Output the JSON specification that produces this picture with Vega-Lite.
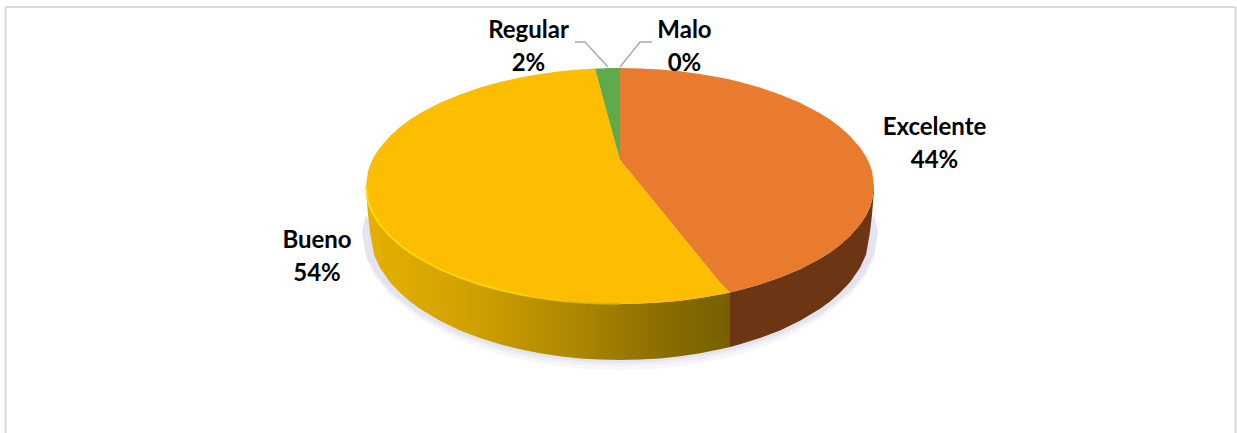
{
  "$schema": "https://vega.github.io/schema/vega-lite/v6.json",
  "width": 1237,
  "height": 433,
  "padding": 0,
  "autosize": {"type": "none"},
  "background": "white",
  "config": {"view": {"stroke": null}},
  "datasets": {
    "contorno": [
      {"parte":"lateral_bueno","x":-254,"y":186,"y2":190},{"parte":"lateral_bueno","x":-252,"y":200.8,"y2":215},{"parte":"lateral_bueno","x":-250,"y":206.9,"y2":232},{"parte":"lateral_bueno","x":-246,"y":215.4,"y2":254.8},{"parte":"lateral_bueno","x":-240,"y":224.6,"y2":267.8},{"parte":"lateral_bueno","x":-230,"y":236,"y2":282.2},{"parte":"lateral_bueno","x":-220,"y":245,"y2":292.8},{"parte":"lateral_bueno","x":-210,"y":252.4,"y2":301.5},{"parte":"lateral_bueno","x":-200,"y":258.7,"y2":308.8},{"parte":"lateral_bueno","x":-180,"y":269.3,"y2":320.8},{"parte":"lateral_bueno","x":-160,"y":277.6,"y2":330.4},{"parte":"lateral_bueno","x":-140,"y":284.5,"y2":338},{"parte":"lateral_bueno","x":-120,"y":290,"y2":344.3},{"parte":"lateral_bueno","x":-100,"y":294.5,"y2":349.3},{"parte":"lateral_bueno","x":-80,"y":298,"y2":353.3},{"parte":"lateral_bueno","x":-60,"y":300.7,"y2":356.3},{"parte":"lateral_bueno","x":-40,"y":302.5,"y2":358.4},{"parte":"lateral_bueno","x":-20,"y":303.6,"y2":359.5},{"parte":"lateral_bueno","x":0,"y":304,"y2":360},{"parte":"lateral_bueno","x":20,"y":303.6,"y2":359.5},{"parte":"lateral_bueno","x":40,"y":302.5,"y2":358.4},{"parte":"lateral_bueno","x":60,"y":300.7,"y2":356.3},{"parte":"lateral_bueno","x":80,"y":298,"y2":353.3},{"parte":"lateral_bueno","x":100,"y":294.5,"y2":349.3},{"parte":"lateral_bueno","x":110,"y":292.4,"y2":346.9},
      {"parte":"lateral_excelente","x":110,"y":292.4,"y2":346.9},{"parte":"lateral_excelente","x":120,"y":290,"y2":344.3},{"parte":"lateral_excelente","x":140,"y":284.5,"y2":338},{"parte":"lateral_excelente","x":160,"y":277.6,"y2":330.4},{"parte":"lateral_excelente","x":180,"y":269.3,"y2":320.8},{"parte":"lateral_excelente","x":200,"y":258.7,"y2":308.8},{"parte":"lateral_excelente","x":210,"y":252.4,"y2":301.5},{"parte":"lateral_excelente","x":220,"y":245,"y2":292.8},{"parte":"lateral_excelente","x":230,"y":236,"y2":282.2},{"parte":"lateral_excelente","x":240,"y":224.6,"y2":267.8},{"parte":"lateral_excelente","x":246,"y":215.4,"y2":254.8},{"parte":"lateral_excelente","x":250,"y":206.9,"y2":232},{"parte":"lateral_excelente","x":252,"y":200.8,"y2":215},{"parte":"lateral_excelente","x":254,"y":186,"y2":190},
      {"parte":"cara_bueno","x":-254,"y":186,"y2":186},{"parte":"cara_bueno","x":-252,"y":171.2,"y2":200.8},{"parte":"cara_bueno","x":-250,"y":165.1,"y2":206.9},{"parte":"cara_bueno","x":-246,"y":156.6,"y2":215.4},{"parte":"cara_bueno","x":-240,"y":147.4,"y2":224.6},{"parte":"cara_bueno","x":-230,"y":136,"y2":236},{"parte":"cara_bueno","x":-220,"y":127,"y2":245},{"parte":"cara_bueno","x":-210,"y":119.6,"y2":252.4},{"parte":"cara_bueno","x":-200,"y":113.3,"y2":258.7},{"parte":"cara_bueno","x":-180,"y":102.7,"y2":269.3},{"parte":"cara_bueno","x":-160,"y":94.4,"y2":277.6},{"parte":"cara_bueno","x":-140,"y":87.5,"y2":284.5},{"parte":"cara_bueno","x":-120,"y":82,"y2":290},{"parte":"cara_bueno","x":-100,"y":77.5,"y2":294.5},{"parte":"cara_bueno","x":-80,"y":74,"y2":298},{"parte":"cara_bueno","x":-60,"y":71.3,"y2":300.7},{"parte":"cara_bueno","x":-40,"y":69.5,"y2":302.5},{"parte":"cara_bueno","x":-25,"y":68.6,"y2":303.4},{"parte":"cara_bueno","x":-20,"y":87,"y2":303.6},{"parte":"cara_bueno","x":-15,"y":105,"y2":303.9},{"parte":"cara_bueno","x":-10,"y":124,"y2":304},{"parte":"cara_bueno","x":-5,"y":142,"y2":304},{"parte":"cara_bueno","x":0,"y":160,"y2":304},{"parte":"cara_bueno","x":20,"y":184.5,"y2":303.6},{"parte":"cara_bueno","x":40,"y":209,"y2":302.5},{"parte":"cara_bueno","x":60,"y":233.5,"y2":300.7},{"parte":"cara_bueno","x":80,"y":258,"y2":298},{"parte":"cara_bueno","x":100,"y":282.5,"y2":294.5},{"parte":"cara_bueno","x":110,"y":292.4,"y2":292.4},
      {"parte":"cara_regular","x":-25,"y":68.6,"y2":68.6},{"parte":"cara_regular","x":-20,"y":68.4,"y2":87},{"parte":"cara_regular","x":-10,"y":68.1,"y2":124},{"parte":"cara_regular","x":0,"y":68,"y2":160},
      {"parte":"cara_excelente","x":0,"y":68,"y2":160},{"parte":"cara_excelente","x":20,"y":68.4,"y2":184.5},{"parte":"cara_excelente","x":40,"y":69.5,"y2":209},{"parte":"cara_excelente","x":60,"y":71.3,"y2":233.5},{"parte":"cara_excelente","x":80,"y":74,"y2":258},{"parte":"cara_excelente","x":100,"y":77.5,"y2":282.5},{"parte":"cara_excelente","x":110,"y":79.6,"y2":292.4},{"parte":"cara_excelente","x":120,"y":82,"y2":290},{"parte":"cara_excelente","x":140,"y":87.5,"y2":284.5},{"parte":"cara_excelente","x":160,"y":94.4,"y2":277.6},{"parte":"cara_excelente","x":180,"y":102.7,"y2":269.3},{"parte":"cara_excelente","x":200,"y":113.3,"y2":258.7},{"parte":"cara_excelente","x":210,"y":119.6,"y2":252.4},{"parte":"cara_excelente","x":220,"y":127,"y2":245},{"parte":"cara_excelente","x":230,"y":136,"y2":236},{"parte":"cara_excelente","x":240,"y":147.4,"y2":224.6},{"parte":"cara_excelente","x":246,"y":156.6,"y2":215.4},{"parte":"cara_excelente","x":250,"y":165.1,"y2":206.9},{"parte":"cara_excelente","x":252,"y":171.2,"y2":200.8},{"parte":"cara_excelente","x":254,"y":186,"y2":186}
    ],
    "sombra": [
      {"x":-258,"y":232,"a":232,"b":233,"c":234},{"x":-254,"y":215,"a":255,"b":256.3,"c":257.9},{"x":-245,"y":232,"a":273,"b":274.7,"c":276.6},{"x":-230,"y":232,"a":291.3,"b":293.2,"c":295.6},{"x":-200,"y":232,"a":314.8,"b":317,"c":319.9},{"x":-160,"y":232,"a":334.8,"b":337.3,"c":340.7},{"x":-120,"y":232,"a":348,"b":350.7,"c":354.4},{"x":-80,"y":232,"a":356.5,"b":359.4,"c":363.3},{"x":-40,"y":232,"a":361.4,"b":364.4,"c":368.4},{"x":0,"y":232,"a":363,"b":366,"c":370},{"x":40,"y":232,"a":361.4,"b":364.4,"c":368.4},{"x":80,"y":232,"a":356.5,"b":359.4,"c":363.3},{"x":120,"y":232,"a":348,"b":350.7,"c":354.4},{"x":160,"y":232,"a":334.8,"b":337.3,"c":340.7},{"x":200,"y":232,"a":314.8,"b":317,"c":319.9},{"x":230,"y":232,"a":291.3,"b":293.2,"c":295.6},{"x":245,"y":232,"a":273,"b":274.7,"c":276.6},{"x":254,"y":215,"a":255,"b":256.3,"c":257.9},{"x":258,"y":232,"a":232,"b":233,"c":234}
    ],
    "categorias": [
      {"categoria":"Excelente","porcentaje":44,"etiqueta":"Excelente\n44%","x":314.5,"y":128},
      {"categoria":"Bueno","porcentaje":54,"etiqueta":"Bueno\n54%","x":-303,"y":241},
      {"categoria":"Regular","porcentaje":2,"etiqueta":"Regular\n2%","x":-91.5,"y":31},
      {"categoria":"Malo","porcentaje":0,"etiqueta":"Malo\n0%","x":64.5,"y":31}
    ],
    "guias": [
      {"categoria":"Regular","orden":1,"x":-45,"y":42},{"categoria":"Regular","orden":2,"x":-35,"y":42},{"categoria":"Regular","orden":3,"x":-12,"y":67},
      {"categoria":"Malo","orden":1,"x":32,"y":42},{"categoria":"Malo","orden":2,"x":20,"y":42},{"categoria":"Malo","orden":3,"x":0,"y":67}
    ],
    "marco": [
      {"x":-614.5,"x2":-614.5,"y":7,"y2":433},
      {"x":-614.5,"x2":615.5,"y":7,"y2":7},
      {"x":615.5,"x2":615.5,"y":7,"y2":433}
    ]
  },
  "resolve": {"scale": {"x": "shared", "y": "shared"}},
  "encoding": {
    "x": {"field": "x", "type": "quantitative", "scale": {"domain": [-620, 617], "nice": false, "zero": false}, "axis": null},
    "y": {"field": "y", "type": "quantitative", "scale": {"domain": [433, 0], "nice": false, "zero": false}, "axis": null}
  },
  "layer": [
    {
      "data": {"name": "marco"},
      "mark": {"type": "rule", "color": "#d9d9d9", "strokeWidth": 2},
      "encoding": {"x2": {"field": "x2"}, "y2": {"field": "y2"}}
    },
    {
      "data": {"name": "sombra"},
      "mark": {"type": "area", "orient": "vertical", "color": "#c6c6de", "opacity": 0.14},
      "encoding": {"y2": {"field": "c"}}
    },
    {
      "data": {"name": "sombra"},
      "mark": {"type": "area", "orient": "vertical", "color": "#c6c6de", "opacity": 0.18},
      "encoding": {"y2": {"field": "b"}}
    },
    {
      "data": {"name": "sombra"},
      "mark": {"type": "area", "orient": "vertical", "color": "#c6c6de", "opacity": 0.22},
      "encoding": {"y2": {"field": "a"}}
    },
    {
      "data": {"name": "contorno"},
      "transform": [{"filter": "datum.parte === 'lateral_bueno'"}],
      "mark": {"type": "area", "orient": "vertical", "color": {"gradient": "linear", "x1": 0, "x2": 1, "y1": 0, "y2": 0, "stops": [{"offset": 0, "color": "#e6b000"}, {"offset": 0.3, "color": "#d0a000"}, {"offset": 0.6, "color": "#a98500"}, {"offset": 0.85, "color": "#866a00"}, {"offset": 1, "color": "#786000"}]}},
      "encoding": {"y2": {"field": "y2"}}
    },
    {
      "data": {"name": "contorno"},
      "transform": [{"filter": "datum.parte === 'lateral_excelente'"}],
      "mark": {"type": "area", "orient": "vertical", "color": "#6c3614"},
      "encoding": {"y2": {"field": "y2"}}
    },
    {
      "data": {"name": "contorno"},
      "transform": [{"filter": "datum.parte === 'cara_excelente'"}],
      "mark": {"type": "area", "orient": "vertical", "color": "#e97b2e"},
      "encoding": {"y2": {"field": "y2"}}
    },
    {
      "data": {"name": "contorno"},
      "transform": [{"filter": "datum.parte === 'cara_bueno'"}],
      "mark": {"type": "area", "orient": "vertical", "color": "#fdbd00"},
      "encoding": {"y2": {"field": "y2"}}
    },
    {
      "data": {"name": "contorno"},
      "transform": [{"filter": "datum.parte === 'cara_regular'"}],
      "mark": {"type": "area", "orient": "vertical", "color": "#5fab4c"},
      "encoding": {"y2": {"field": "y2"}}
    },
    {
      "data": {"name": "contorno"},
      "transform": [{"filter": "datum.parte === 'lateral_bueno' && datum.x <= 0"}],
      "mark": {"type": "line", "strokeWidth": 2, "opacity": 0.8, "color": {"gradient": "linear", "x1": 0, "x2": 1, "y1": 0, "y2": 0, "stops": [{"offset": 0, "color": "#ffe400"}, {"offset": 0.6, "color": "#ffd800"}, {"offset": 1, "color": "#d8a800"}]}}
    },
    {
      "data": {"name": "guias"},
      "mark": {"type": "line", "color": "#a6a6a6", "strokeWidth": 1.3},
      "encoding": {"detail": {"field": "categoria"}, "order": {"field": "orden"}}
    },
    {
      "data": {"name": "categorias"},
      "mark": {"type": "text", "font": "Lato", "fontWeight": "bold", "fontSize": 24, "color": "black", "align": "center", "baseline": "middle", "lineBreak": "\n", "lineHeight": 33},
      "encoding": {"text": {"field": "etiqueta"}}
    }
  ]
}
